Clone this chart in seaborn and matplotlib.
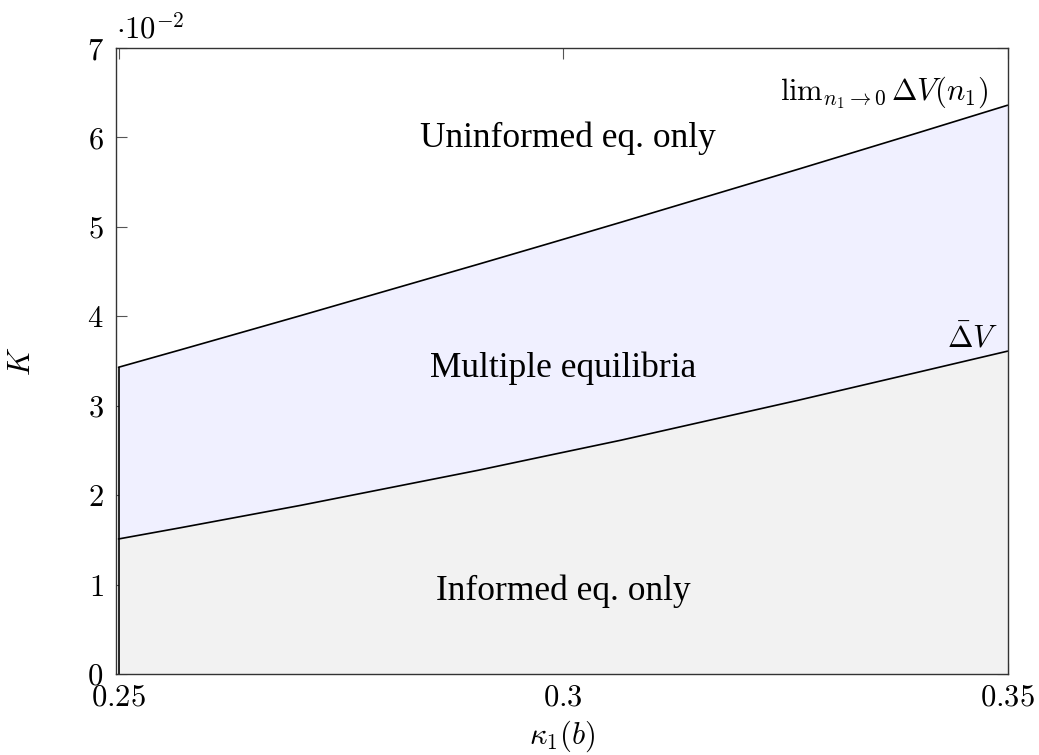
import numpy as np
import pandas as pd
import matplotlib
matplotlib.use("Agg")
import matplotlib.pyplot as plt
import seaborn as sns

# kappa_1(b) grid
kappa = [0.2500, 0.2570, 0.2705, 0.2905, 0.2985, 0.3065, 0.3265, 0.3400, 0.3500]
# upper boundary: lim_{n1->0} Delta V(n1)
lim_dv = [0.03430, 0.03626, 0.04008, 0.04583, 0.04816, 0.05051, 0.05646, 0.06054, 0.06360]
# lower boundary: bar Delta V
bar_dv = [0.01510, 0.01636, 0.01886, 0.02279, 0.02447, 0.02614, 0.03062, 0.03376, 0.03610]

xticks = [0.25, 0.3, 0.35]
xtick_labels = ["0.25", "0.3", "0.35"]
yticks = [0.0, 0.01, 0.02, 0.03, 0.04, 0.05, 0.06, 0.07]
ytick_labels = ["0", "1", "2", "3", "4", "5", "6", "7"]

df = pd.DataFrame({"kappa": kappa, "upper": lim_dv, "lower": bar_dv})

sns.set_theme(style="white")
plt.rcParams["mathtext.fontset"] = "cm"
plt.rcParams["font.family"] = ["Liberation Serif", "DejaVu Serif"]
for k in ["text.color", "axes.labelcolor", "xtick.color", "ytick.color"]:
    plt.rcParams[k] = "black"

fig = plt.figure(figsize=(10.39, 7.55), dpi=100)
ax = fig.add_axes([0.1117, 0.1073, 0.8585, 0.8291])

ax.fill_between(df["kappa"], 0, df["lower"], color="#f2f2f2", lw=0, zorder=1)
ax.fill_between(df["kappa"], df["lower"], df["upper"], color="#f0f0ff", lw=0, zorder=1)
sns.lineplot(data=df, x="kappa", y="upper", color="black", lw=1.2, ax=ax, zorder=3)
sns.lineplot(data=df, x="kappa", y="lower", color="black", lw=1.2, ax=ax, zorder=3)
ax.vlines(df["kappa"].iloc[0], 0, df["upper"].iloc[0], color="black", lw=1.2, zorder=3)

ax.set_xlim(0.24972, 0.35006)
ax.set_ylim(0, 0.07)
ax.set_axisbelow(True)

ax.set_xticks(xticks)
ax.set_xticklabels([f"${t}$" for t in xtick_labels])
ax.set_yticks(yticks)
ax.set_yticklabels([f"${t}$" for t in ytick_labels])
ax.tick_params(axis="both", direction="in", length=8, width=0.8, color="#555555",
               labelsize=22, top=True, right=True, bottom=True, left=True)
ax.tick_params(axis="y", pad=9)
ax.tick_params(axis="x", pad=7)
for s in ax.spines.values():
    s.set_color("#333333")
    s.set_linewidth(1.0)
    s.set_zorder(4)

ax.set_xlabel(r"$\kappa_1(b)$", fontsize=22, labelpad=4)
ax.set_ylabel(r"$K$", fontsize=22, labelpad=36)
ax.text(0.0, 1.005, r"$\cdot 10^{-2}$", transform=ax.transAxes, fontsize=22,
        ha="left", va="bottom")

ax.text(0.3005, 0.0599, "Uninformed eq. only", fontsize=25.5, ha="center", va="center")
ax.text(0.3000, 0.0342, "Multiple equilibria", fontsize=25.5, ha="center", va="center")
ax.text(0.3000, 0.0092, "Informed eq. only", fontsize=25.5, ha="center", va="center")
ax.text(0.3478, 0.0650, r"$\mathrm{lim}_{n_1\to 0}\,\Delta V(n_1)$", fontsize=22,
        ha="right", va="center")
ax.text(0.3489, 0.0374, r"$\bar{\Delta} V$", fontsize=22, ha="right", va="center")

fig.savefig("out.png", dpi=100)
